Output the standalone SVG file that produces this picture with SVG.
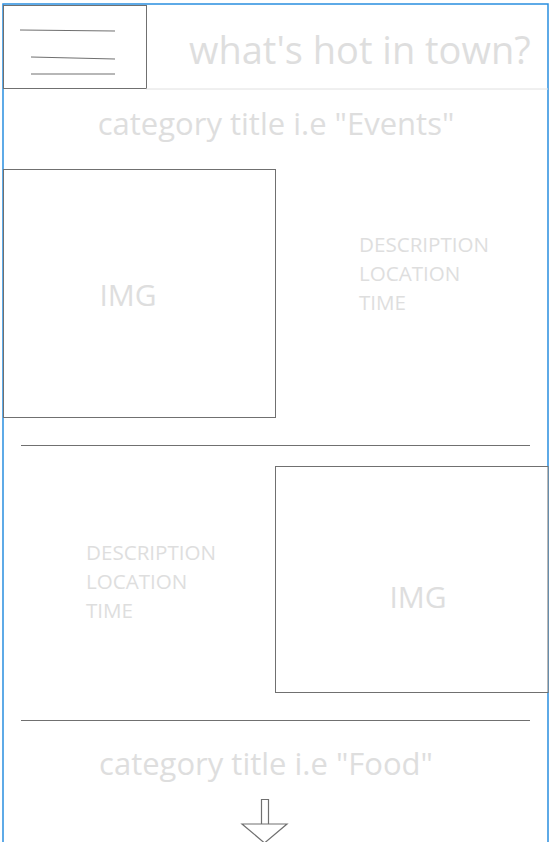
<svg xmlns="http://www.w3.org/2000/svg" width="557" height="842" viewBox="0 0 557 842">
<style>
.frame{fill:none;stroke:#2a8ee0;stroke-width:1.5}
.box{fill:#fff;stroke:#707070;stroke-width:1}
.ln{stroke:#707070;stroke-width:1.2;fill:none}
.lt{stroke:#e0e0e0;stroke-width:1;fill:none}
.t{font-family:"Open Sans","Noto Sans",sans-serif;fill:#dedede}
.big{font-size:38px}
.cat{font-size:31px}
.img{font-size:30px}
.d{font-size:20.6px}
</style>
<rect width="557" height="842" fill="#fff"/>
<g id="frame"><path class="frame" d="M3,845 V4 H548 V845"/></g>
<g id="header">
<rect class="box" x="3.5" y="5.5" width="143" height="83"/>
<path class="lt" d="M146,89 H548"/>
<path class="ln" d="M20,30 L115,31 M31,57 L115,59 M31,74 H115"/>
<text class="t big" x="189" y="64">what's hot in town?</text>
</g>
<g id="cat1"><text class="t cat" x="276" y="135" text-anchor="middle">category title i.e "Events"</text></g>
<g id="item1">
<rect class="box" x="3.5" y="169.5" width="272" height="248"/>
<text class="t img" x="128" y="306" text-anchor="middle">IMG</text>
<text class="t d" x="359" y="252">DESCRIPTION</text>
<text class="t d" x="359" y="281">LOCATION</text>
<text class="t d" x="359" y="310">TIME</text>
</g>
<g id="sep1"><path class="ln" d="M21,445.5 H530"/></g>
<g id="item2">
<rect class="box" x="275.5" y="466.5" width="272.5" height="226"/>
<text class="t img" x="418" y="608" text-anchor="middle">IMG</text>
<text class="t d" x="86" y="560">DESCRIPTION</text>
<text class="t d" x="86" y="589">LOCATION</text>
<text class="t d" x="86" y="618">TIME</text>
</g>
<g id="sep2"><path class="ln" d="M21,720.5 H530"/></g>
<g id="cat2"><text class="t cat" x="266" y="775" text-anchor="middle">category title i.e "Food"</text></g>
<g id="arrow">
<path class="ln" d="M261.5,824 V799.5 H268.5 V824 M242,824 H287 L264.5,843 Z"/>
</g>
</svg>
